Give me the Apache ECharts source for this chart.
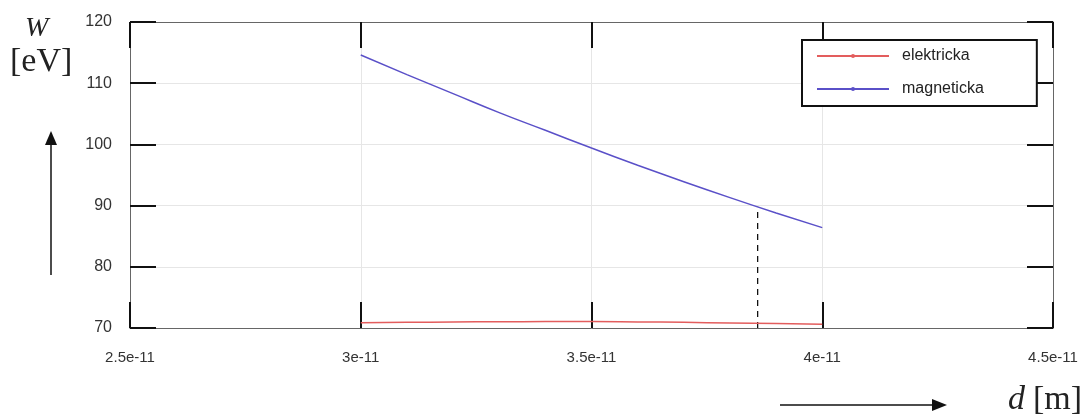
<!DOCTYPE html>
<html>
<head>
<meta charset="utf-8">
<script src="https://cdn.jsdelivr.net/npm/echarts@6/dist/echarts.min.js"></script>
<style>
  html, body { margin: 0; padding: 0; background: #fff; }
  #main { width: 1090px; height: 419px; }
</style>
</head>
<body>
<div id="main"></div>
<script>
// d in units of 1e-11 m
var dValues = [3.0, 3.1, 3.2, 3.3, 3.4, 3.5, 3.6, 3.7, 3.8, 3.9, 4.0];
var elektricka = [70.87, 70.93, 70.98, 71.02, 71.05, 71.06, 71.0, 70.92, 70.82, 70.73, 70.63];
var magneticka = [114.6, 111.4, 108.3, 105.2, 102.3, 99.4, 96.6, 93.9, 91.3, 88.8, 86.4];
// dashed marker under the magneticka curve
var markD = [3.86, 3.86];
var markW = [70, 89.8];
var xTicks = [2.5, 3, 3.5, 4, 4.5];
var yTicks = [70, 80, 90, 100, 110, 120];

var names = ['elektricka', 'magneticka'];

function pairs(xs, ys) {
  var out = [];
  for (var i = 0; i < xs.length; i++) out.push([xs[i], ys[i]]);
  return out;
}

var myChart = echarts.init(document.getElementById('main'));

var tickStyle = { show: true, inside: true, length: 26, lineStyle: { color: '#111', width: 2 } };
var lineStyleAxis = { show: true, onZero: false, lineStyle: { color: '#666', width: 1 } };

option = {
  backgroundColor: '#FFFFFF',
  animation: false,
  textStyle: { fontFamily: 'Liberation Sans, Arial, sans-serif' },
  grid: { left: 130, right: 37, top: 22, bottom: 91 },
  legend: {
    data: names,
    left: 802,
    top: 40,
    orient: 'vertical',
    itemWidth: 72,
    itemHeight: 5,
    itemGap: 17,
    padding: [8, 53, 9, 14],
    borderColor: '#111',
    borderWidth: 2,
    backgroundColor: '#fff',
    textStyle: { fontSize: 16, color: '#222', padding: [0, 0, 0, 8] }
  },
  xAxis: [
    {
      type: 'value',
      min: 2.5, max: 4.5, interval: 0.5,
      axisLine: lineStyleAxis,
      axisTick: tickStyle,
      axisLabel: {
        fontSize: 15, color: '#333', margin: 22,
        formatter: function (v) { return v + 'e-11'; }
      },
      splitLine: { show: true, lineStyle: { color: '#e6e6e6', width: 1 } }
    },
    {
      type: 'value', position: 'top',
      min: 2.5, max: 4.5, interval: 0.5,
      axisLine: lineStyleAxis,
      axisTick: tickStyle,
      axisLabel: { show: false },
      splitLine: { show: false }
    }
  ],
  yAxis: [
    {
      type: 'value',
      min: 70, max: 120, interval: 10,
      axisLine: lineStyleAxis,
      axisTick: tickStyle,
      axisLabel: { fontSize: 16, color: '#333', margin: 18 },
      splitLine: { show: true, lineStyle: { color: '#e6e6e6', width: 1 } }
    },
    {
      type: 'value', position: 'right',
      min: 70, max: 120, interval: 10,
      axisLine: lineStyleAxis,
      axisTick: tickStyle,
      axisLabel: { show: false },
      splitLine: { show: false }
    }
  ],
  series: [
    {
      name: names[0],
      type: 'line',
      data: pairs(dValues, elektricka),
      smooth: true,
      symbol: 'circle',
      symbolSize: 4,
      showSymbol: false,
      itemStyle: { color: '#e35d5d' },
      lineStyle: { color: '#e35d5d', width: 1.5 },
      z: 3
    },
    {
      name: names[1],
      type: 'line',
      data: pairs(dValues, magneticka),
      smooth: true,
      symbol: 'circle',
      symbolSize: 4,
      showSymbol: false,
      itemStyle: { color: '#5a50c8' },
      lineStyle: { color: '#5a50c8', width: 1.5 },
      z: 3
    },
    {
      name: 'mark',
      type: 'line',
      data: pairs(markD, markW),
      symbol: 'none',
      lineStyle: { color: '#111', width: 1.3, type: [6, 5] },
      z: 2
    }
  ],
  graphic: [
    { type: 'text', left: 25, top: 15, style: { text: 'W', font: 'italic 28px "Liberation Serif", serif', fill: '#222' } },
    { type: 'text', left: 10, top: 45, style: { text: '[eV]', font: '34px "Liberation Serif", serif', fill: '#222' } },
    { type: 'line', shape: { x1: 51, y1: 275, x2: 51, y2: 142 }, style: { stroke: '#111', lineWidth: 1.5 } },
    { type: 'polygon', shape: { points: [[51, 131], [45, 145], [57, 145]] }, style: { fill: '#111' } },
    { type: 'line', shape: { x1: 780, y1: 405, x2: 933, y2: 405 }, style: { stroke: '#111', lineWidth: 1.5 } },
    { type: 'polygon', shape: { points: [[947, 405], [932, 399], [932, 411]] }, style: { fill: '#111' } },
    { type: 'text', left: 1008, top: 383, style: { text: 'd', font: 'italic 34px "Liberation Serif", serif', fill: '#222' } },
    { type: 'text', left: 1033, top: 383, style: { text: '[m]', font: '34px "Liberation Serif", serif', fill: '#222' } }
  ]
};

myChart.setOption(option, true);
</script>
</body>
</html>
